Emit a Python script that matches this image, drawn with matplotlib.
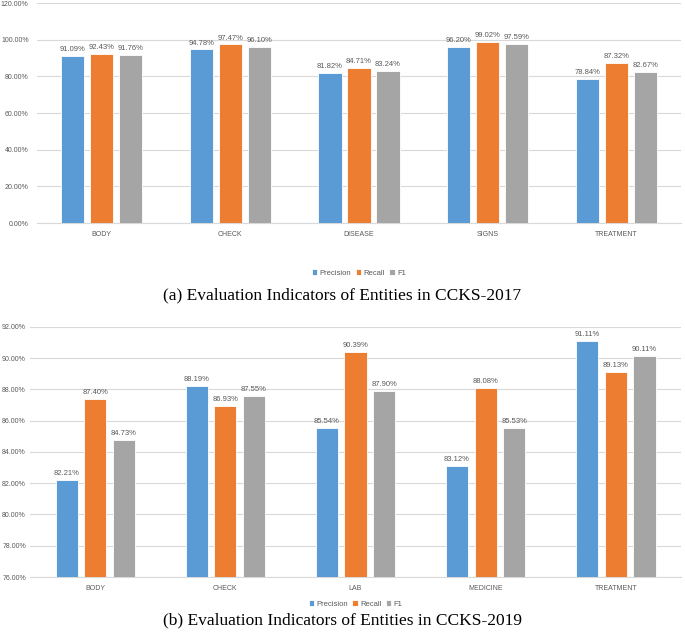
import matplotlib
matplotlib.use("Agg")
import matplotlib.pyplot as plt
import numpy as np
from matplotlib.ticker import FuncFormatter

cats_2017 = ["BODY", "CHECK", "DISEASE", "SIGNS", "TREATMENT"]
prec_2017 = [91.09, 94.78, 81.82, 96.20, 78.84]
rec_2017 = [92.43, 97.47, 84.71, 99.02, 87.32]
f1_2017 = [91.76, 96.10, 83.24, 97.59, 82.67]

cats_2019 = ["BODY", "CHECK", "LAB", "MEDICINE", "TREATMENT"]
prec_2019 = [82.21, 88.19, 85.54, 83.12, 91.11]
rec_2019 = [87.40, 86.93, 90.39, 88.08, 89.13]
f1_2019 = [84.73, 87.55, 87.90, 85.53, 90.11]

series_names = ["Precision", "Recall", "F1"]
colors = ["#5B9BD5", "#ED7D31", "#A5A5A5"]
txt = "#595959"

plt.rcParams["font.family"] = ["Liberation Sans", "DejaVu Sans"]

fig = plt.figure(figsize=(6.85, 6.32), dpi=100)


def draw(ax, cats, vals, ylim, ystep, width, offset, label_gap, legend_y, ypad):
    x = np.arange(len(cats))
    base = ylim[0]
    for i, (name, v, c) in enumerate(zip(series_names, vals, colors)):
        xs = x + (i - 1) * offset
        ax.bar(xs, np.array(v) - base, width, bottom=base, color=c, label=name,
               edgecolor="white", linewidth=0.6, zorder=3)
        for xi, val in zip(xs, v):
            ax.text(xi, val + label_gap, f"{val:.2f}%", ha="center",
                    va="bottom", fontsize=5.5, color=txt)
    ax.set_ylim(*ylim)
    ax.set_xlim(-0.5, len(cats) - 0.5)
    ax.set_yticks(np.arange(ylim[0], ylim[1] + 0.01, ystep))
    ax.yaxis.set_major_formatter(FuncFormatter(lambda v, p: f"{v:.2f}%"))
    ax.set_xticks(x)
    ax.set_xticklabels(cats)
    ax.tick_params(axis="both", labelsize=5, colors=txt, length=0)
    ax.tick_params(axis="x", pad=6)
    ax.tick_params(axis="y", pad=ypad)
    ax.grid(axis="y", color="#D9D9D9", linewidth=0.8, zorder=0)
    for s in ["top", "right", "left"]:
        ax.spines[s].set_visible(False)
    ax.spines["bottom"].set_color("#D9D9D9")
    ax.spines["bottom"].set_linewidth(0.8)
    ax.legend(loc="center", bbox_to_anchor=(0.5, legend_y), ncol=3,
              frameon=False, fontsize=5.5, handlelength=0.7, handleheight=0.7,
              handletextpad=0.3, columnspacing=0.6, labelcolor=txt)


ax1 = fig.add_axes([0.054, 0.647, 0.94, 0.348])
draw(ax1, cats_2017, [prec_2017, rec_2017, f1_2017], (0, 120), 20,
     0.18, 0.225, 1.5, -0.227, 6)

ax2 = fig.add_axes([0.044, 0.087, 0.950, 0.396])
draw(ax2, cats_2019, [prec_2019, rec_2019, f1_2019], (76, 92), 2,
     0.17, 0.22, 0.2, -0.108, 3)

fig.text(0.5, 1 - 295 / 632, "(a) Evaluation Indicators of Entities in CCKS-2017",
         ha="center", va="center", fontsize=12.5, family="Liberation Serif")
fig.text(0.5, 1 - 620 / 632, "(b) Evaluation Indicators of Entities in CCKS-2019",
         ha="center", va="center", fontsize=12.5, family="Liberation Serif")

fig.savefig("out.png", dpi=100)
